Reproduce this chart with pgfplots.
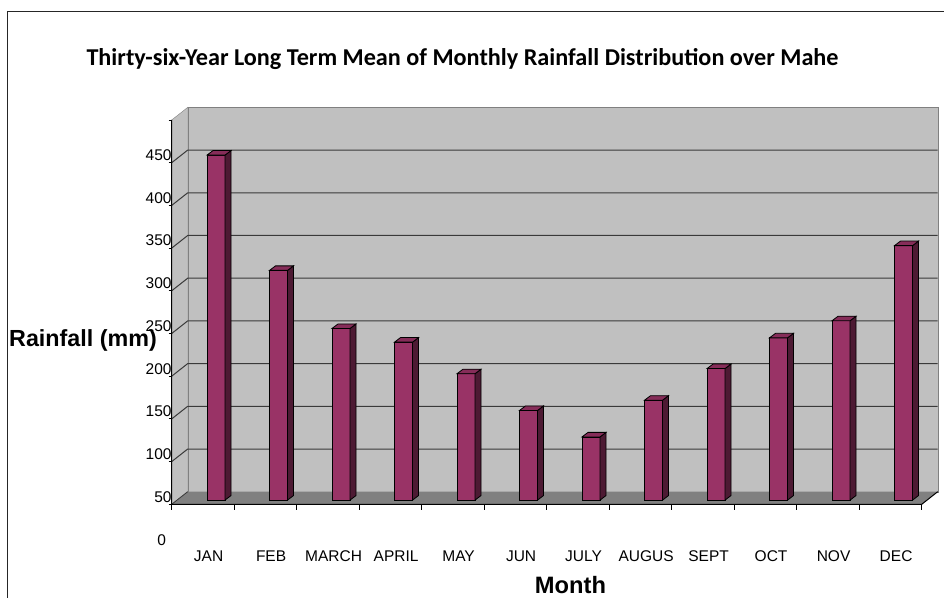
\documentclass[border=0pt]{standalone}
\usepackage{pgfplots}
\usepackage{pgfplotstable}
\usepackage{fontspec}
\pgfplotsset{compat=1.18}
\setmainfont{Liberation Sans}
\newfontfamily\titlefont{Carlito}

\definecolor{wallfill}{HTML}{C0C0C0}
\definecolor{wallline}{HTML}{808080}
\definecolor{floorfill}{HTML}{808080}
\definecolor{gridcol}{HTML}{3A3A3A}
\definecolor{barfront}{HTML}{993366}
\definecolor{barside}{HTML}{4D1A33}
\definecolor{bartop}{HTML}{862D59}

\pgfplotstableread{
idx month val
0 JAN 454
1 FEB 319
2 MARCH 251
3 APRIL 235
4 MAY 198
5 JUN 155
6 JULY 124
7 AUGUS 167
8 SEPT 204
9 OCT 240
10 NOV 260
11 DEC 348
}\raindata

\begin{document}
\begin{tikzpicture}
\path[use as bounding box, clip] (0,0) rectangle (944pt,597pt);
\draw[black!85, line width=1pt] (7.3pt,-10pt) rectangle (960pt,585.3pt);

\node[anchor=base, inner sep=0pt, font=\titlefont\bfseries\fontsize{24.2}{28}\selectfont]
  at (462.5pt,531.3pt) {Thirty-six-Year Long Term Mean of Monthly Rainfall Distribution over Mahe};
\node[anchor=base west, inner sep=0pt, font=\bfseries\fontsize{23.3}{27}\selectfont]
  at (9pt,250.3pt) {Rainfall (mm)};
\node[anchor=base, inner sep=0pt, font=\bfseries\fontsize{23.7}{27}\selectfont]
  at (570.5pt,3.7pt) {Month};
\node[inner sep=0pt, font=\fontsize{15.5}{18}\selectfont] at (161.7pt,56.5pt) {0};

\begin{axis}[
  at={(171.7pt,92.7pt)}, anchor=south west,
  x=62.5pt, y=0.854pt,
  xmin=0, xmax=12.256, ymin=50, ymax=514.75,
  axis line style={draw=none},
  clip=false,
  major tick length=0pt,
  xtick pos=bottom, ytick pos=left,
  xtick={0.59,1.59,2.59,3.59,4.59,5.59,6.59,7.59,8.59,9.59,10.59,11.59},
  xticklabels from table={\raindata}{month},
  ytick={50,100,...,450},
  /pgf/number format/assume math mode=true,
  xticklabel style={anchor=base, yshift=-57.3pt, font=\fontsize{15.5}{18}\selectfont},
  yticklabel style={anchor=east, inner sep=0pt, yshift=7.5pt, font=\fontsize{15.5}{18}\selectfont},
]
% walls and floor
\addplot[draw=wallline, fill=wallfill] coordinates {(0,50) (0.256,64.75) (0.256,514.75) (0,500)} -- cycle;
\addplot[draw=wallline, fill=wallfill] coordinates {(0.256,64.75) (12.256,64.75) (12.256,514.75) (0.256,514.75)} -- cycle;
\addplot[draw=none, fill=floorfill] coordinates {(0,50) (12,50) (12.256,64.75) (0.256,64.75)} -- cycle;

% gridlines on the back wall, with their diagonals on the side wall
\pgfplotsinvokeforeach{100,150,200,250,300,350,400,450}{
  \pgfmathsetmacro\yb{#1+14.75}
  \edef\gridcmd{\noexpand\addplot[gridcol, line width=1pt] coordinates {(0,#1) (0.256,\yb) (12.256,\yb)};}
  \gridcmd
}
\addplot[gridcol, line width=0.8pt] coordinates {(0,50) (0.256,64.75)};

% tick marks
\pgfplotsinvokeforeach{50,100,...,500}{
  \addplot[black, line width=0.8pt] coordinates {(-0.05,#1) (0,#1)};
}
\pgfplotsinvokeforeach{0,...,12}{
  \addplot[black, line width=0.8pt] coordinates {(#1,50) (#1,43)};
}

% bars: front, side and top faces
\pgfplotsinvokeforeach{0,...,11}{
  \pgfplotstablegetelem{#1}{val}\of\raindata
  \pgfmathsetmacro\xl{#1+0.565}
  \pgfmathsetmacro\xr{#1+0.853}
  \pgfmathsetmacro\xlb{#1+0.661}
  \pgfmathsetmacro\xrb{#1+0.949}
  \pgfmathsetmacro\yt{\pgfplotsretval+4.9}
  \pgfmathsetmacro\ytb{\pgfplotsretval+10.2}
  \edef\barcmd{%
    \noexpand\addplot[draw=black, line width=0.8pt, fill=barfront] coordinates {(\xl,54.9) (\xr,54.9) (\xr,\yt) (\xl,\yt)} -- cycle;
    \noexpand\addplot[draw=black, line width=0.8pt, fill=barside] coordinates {(\xr,54.9) (\xrb,60.2) (\xrb,\ytb) (\xr,\yt)} -- cycle;
    \noexpand\addplot[draw=black, line width=0.8pt, fill=bartop] coordinates {(\xl,\yt) (\xr,\yt) (\xrb,\ytb) (\xlb,\ytb)} -- cycle;
  }%
  \barcmd
}

% front edges
\addplot[black, line width=1pt] coordinates {(0,500) (0,50) (12,50) (12.256,64.75)};
\end{axis}
\end{tikzpicture}
\end{document}
